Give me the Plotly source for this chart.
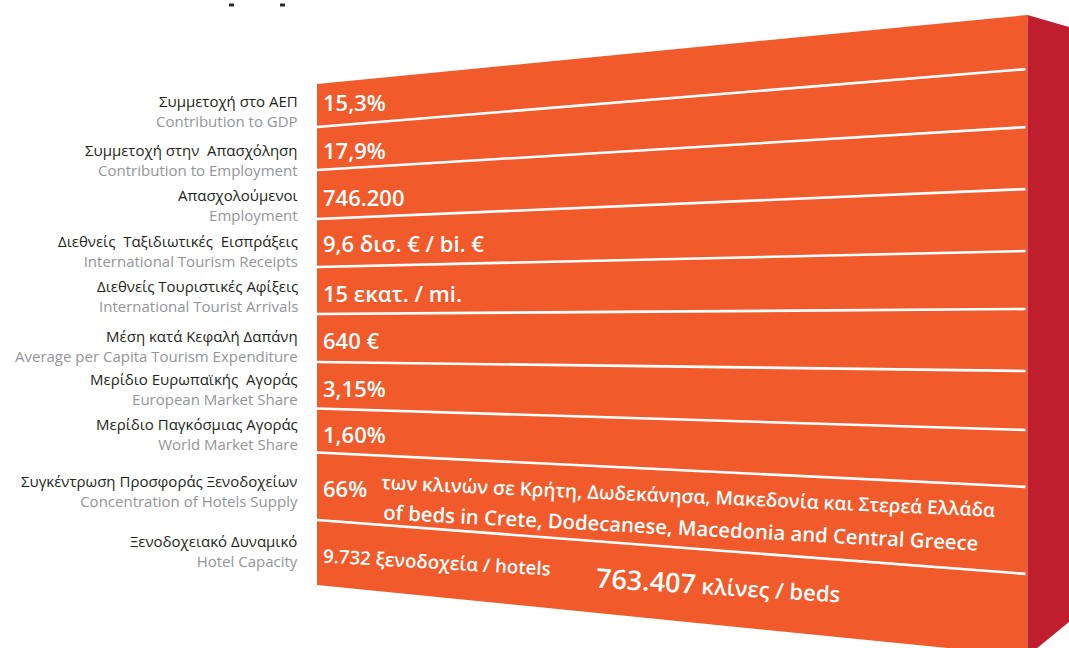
import plotly.graph_objects as go

# ---------------- data ----------------
labels_gr = [
    "Συμμετοχή στο ΑΕΠ",
    "Συμμετοχή στην  Απασχόληση",
    "Απασχολούμενοι",
    "Διεθνείς  Ταξιδιωτικές  Εισπράξεις",
    "Διεθνείς Τουριστικές Αφίξεις",
    "Μέση κατά Κεφαλή Δαπάνη",
    "Μερίδιο Ευρωπαϊκής  Αγοράς",
    "Μερίδιο Παγκόσμιας Αγοράς",
    "Συγκέντρωση Προσφοράς Ξενοδοχείων",
    "Ξενοδοχειακό Δυναμικό",
]
labels_en = [
    "Contribution to GDP",
    "Contribution to Employment",
    "Employment",
    "International Tourism Receipts",
    "International Tourist Arrivals",
    "Average per Capita Tourism Expenditure",
    "European Market Share",
    "World Market Share",
    "Concentration of Hotels Supply",
    "Hotel Capacity",
]
values = [
    "15,3%",
    "17,9%",
    "746.200",
    "9,6 δισ. € / bi. €",
    "15 εκατ. / mi.",
    "640 €",
    "3,15%",
    "1,60%",
    "66%",
]
concentration_gr = "των κλινών σε Κρήτη, Δωδεκάνησα, Μακεδονία και Στερεά Ελλάδα"
concentration_en = "of beds in Crete, Dodecanese, Macedonia and Central Greece"
hotels_value = "9.732"
hotels_unit = "ξενοδοχεία / hotels"
beds_value = "763.407"
beds_unit = "κλίνες / beds"

# ---------------- layout constants (positions) ----------------
W, H = 1069, 648
x_left, x_right, x_side = 317, 1027.5, 1069
line_end = 1025.5
edge_left_y = [84, 127, 170, 219, 267, 314, 362, 408.5, 452.5, 520, 585]
edge_right_y = [15, 69, 127, 189, 251, 309, 371, 430, 487, 574, 656]
side_top_y, side_bottom_y = 27, 622
label_x = 300
label_y = [110.5, 159.5, 204.5, 251, 296, 345.5, 389, 433.5, 491, 550.5]
value_x = 321
value_y = [102, 150, 197, 243, 293, 340, 388, 434, 488]

FRONT = "#F15A2B"
SIDE = "#BE1E2D"
FONT = "Open Sans"
GR_COLOR = "#231F20"
EN_COLOR = "#939598"

fig = go.Figure()

shapes = []
# front face
shapes.append(dict(
    type="path", xref="x", yref="y", layer="below",
    path=f"M{x_left},{edge_left_y[0]} L{x_right},{edge_right_y[0]} "
         f"L{x_right},{edge_right_y[-1]} L{x_left},{edge_left_y[-1]} Z",
    fillcolor=FRONT, line=dict(width=0),
))
# side face
shapes.append(dict(
    type="path", xref="x", yref="y", layer="below",
    path=f"M{x_right},{edge_right_y[0]} L{x_side},{side_top_y} "
         f"L{x_side},{side_bottom_y} L{x_right},{edge_right_y[-1]} Z",
    fillcolor=SIDE, line=dict(width=0),
))
# white separators
for i in range(1, len(edge_left_y) - 1):
    yl = edge_left_y[i]
    yr = edge_left_y[i] + (edge_right_y[i] - edge_left_y[i]) * (line_end - x_left) / (x_right - x_left)
    shapes.append(dict(
        type="line", xref="x", yref="y",
        x0=x_left, y0=yl, x1=line_end, y1=yr,
        line=dict(color="white", width=2.6),
    ))
# tiny remnants of a cropped title at the top
for mx in (229, 280):
    shapes.append(dict(type="rect", xref="x", yref="y",
                       x0=mx, x1=mx + 5, y0=3.5, y1=6.5,
                       fillcolor="#2b2b2b", line=dict(width=0)))

annotations = []
for g, e, yl in zip(labels_gr, labels_en, label_y):
    annotations.append(dict(
        x=label_x, y=yl, xref="x", yref="y",
        text=f"<span style='color:{GR_COLOR}'>{g}</span><br>"
             f"<span style='color:{EN_COLOR}'>{e}</span>",
        showarrow=False, align="right",
        xanchor="right", yanchor="middle",
        font=dict(family=FONT, size=15, color=GR_COLOR)))

for v, yv in zip(values, value_y):
    annotations.append(dict(
        x=value_x, y=yv, xref="x", yref="y", text=v, showarrow=False,
        xanchor="left", yanchor="middle",
        font=dict(family=FONT, size=22, color="white", weight=600)))

# slanted texts
annotations.append(dict(
    x=688, y=496, xref="x", yref="y", text=concentration_gr, showarrow=False,
    xanchor="center", yanchor="middle", textangle=2.6,
    font=dict(family=FONT, size=19, color="white", weight=600)))
annotations.append(dict(
    x=681, y=527, xref="x", yref="y", text=concentration_en, showarrow=False,
    xanchor="center", yanchor="middle", textangle=3.0,
    font=dict(family=FONT, size=20.3, color="white", weight=600)))
annotations.append(dict(
    x=437, y=561, xref="x", yref="y",
    text=f"{hotels_value} {hotels_unit}", showarrow=False,
    xanchor="center", yanchor="middle", textangle=3.3,
    font=dict(family=FONT, size=18.7, color="white", weight=600)))
annotations.append(dict(
    x=718, y=584, xref="x", yref="y",
    text=f"<span style='font-size:27px'>{beds_value}</span> {beds_unit}", showarrow=False,
    xanchor="center", yanchor="middle", textangle=3.5,
    font=dict(family=FONT, size=22, color="white", weight=600)))

fig.update_layout(
    width=W, height=H,
    margin=dict(l=0, r=0, t=0, b=0),
    paper_bgcolor="white", plot_bgcolor="white",
    xaxis=dict(range=[0, W], visible=False, fixedrange=True),
    yaxis=dict(range=[H, 0], visible=False, fixedrange=True),
    shapes=shapes, annotations=annotations,
    showlegend=False,
)

fig.write_html("out.html", config={"displayModeBar": False},
               post_script="document.body.style.margin='0';document.body.style.overflow='hidden';")
